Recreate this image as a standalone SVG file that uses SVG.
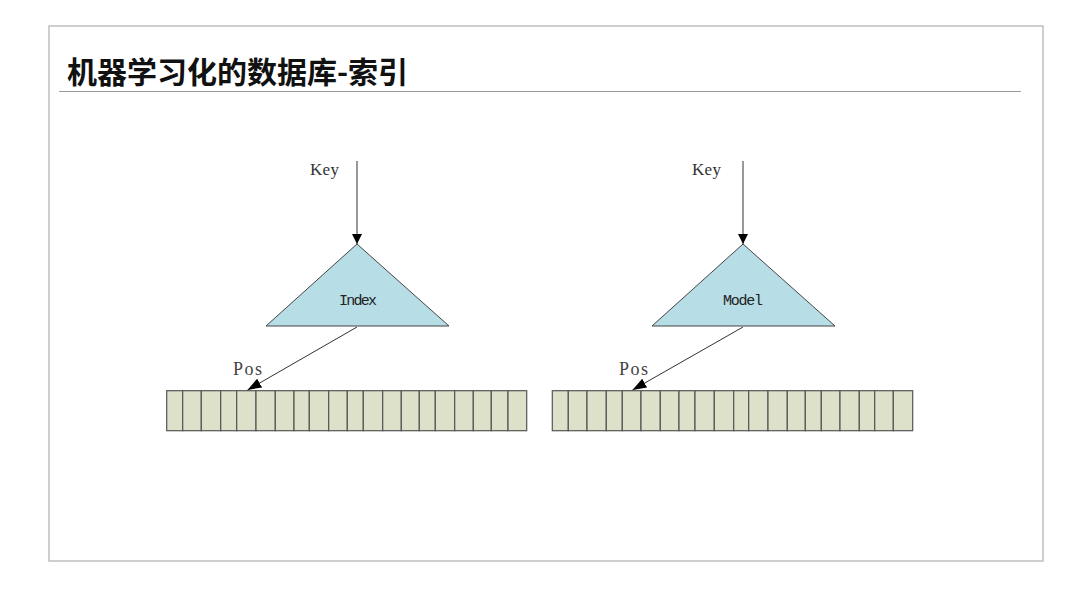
<svg xmlns="http://www.w3.org/2000/svg" width="1080" height="608" viewBox="0 0 1080 608">
<defs>
<style>
.frame{fill:#fff;stroke:#b0b0b0;stroke-width:1.2}
.rule{stroke:#9a9a9a;stroke-width:1}
.title{font-family:"Noto Sans CJK SC","Noto Sans",sans-serif;font-weight:bold;font-size:30px;fill:#111}
.tri{fill:#b7dde7;stroke:#444;stroke-width:1}
.cell{fill:#dde1c9;stroke:#555;stroke-width:1.2}
.conn{stroke:#333;stroke-width:1;fill:none}
.lbl{font-family:"Liberation Serif",serif;font-size:17px;fill:#333}
.pos{font-family:"Liberation Serif",serif;font-size:18px;fill:#444}
.in{font-family:"Liberation Mono",monospace;font-size:15px;fill:#222}
</style>
<marker id="ah" viewBox="0 0 10 10" refX="10" refY="5" markerWidth="10" markerHeight="10" markerUnits="userSpaceOnUse" orient="auto">
<path d="M0,0 L10,5 L0,10 z" fill="#000"/>
</marker>
<marker id="ah2" viewBox="0 0 14 10" refX="14" refY="5" markerWidth="14" markerHeight="10" markerUnits="userSpaceOnUse" orient="auto">
<path d="M0,0 L14,5 L0,10 z" fill="#000"/>
</marker>
</defs>
<rect class="frame" x="49" y="26" width="994" height="535"/>
<text class="title" x="67" y="83">机器学习化的数据库-索引</text>
<line class="rule" x1="59" y1="91.5" x2="1021" y2="91.5"/>

<g id="index">
<polygon class="tri" points="357,244 266,326 449,326"/>
<text class="in" x="358" y="305" text-anchor="middle" textLength="38">Index</text>
</g>
<g id="model">
<polygon class="tri" points="743,244 652,326 835,326"/>
<text class="in" x="743" y="305" text-anchor="middle" textLength="40">Model</text>
</g>

<g id="array-left">
<rect class="cell" x="166.7" y="390.7" width="16" height="40"/>
<rect class="cell" x="182.7" y="390.7" width="18.6" height="40"/>
<rect class="cell" x="201.3" y="390.7" width="19.4" height="40"/>
<rect class="cell" x="220.7" y="390.7" width="16" height="40"/>
<rect class="cell" x="236.7" y="390.7" width="19.3" height="40"/>
<rect class="cell" x="256" y="390.7" width="19.3" height="40"/>
<rect class="cell" x="275.3" y="390.7" width="18.7" height="40"/>
<rect class="cell" x="294" y="390.7" width="15.3" height="40"/>
<rect class="cell" x="309.3" y="390.7" width="19.4" height="40"/>
<rect class="cell" x="328.7" y="390.7" width="18.6" height="40"/>
<rect class="cell" x="347.3" y="390.7" width="16" height="40"/>
<rect class="cell" x="363.3" y="390.7" width="19.4" height="40"/>
<rect class="cell" x="382.7" y="390.7" width="18.6" height="40"/>
<rect class="cell" x="401.3" y="390.7" width="18" height="40"/>
<rect class="cell" x="419.3" y="390.7" width="16" height="40"/>
<rect class="cell" x="435.3" y="390.7" width="19.4" height="40"/>
<rect class="cell" x="454.7" y="390.7" width="18.6" height="40"/>
<rect class="cell" x="473.3" y="390.7" width="18" height="40"/>
<rect class="cell" x="491.3" y="390.7" width="16.7" height="40"/>
<rect class="cell" x="508" y="390.7" width="18.7" height="40"/>
</g>

<g id="array-right">
<rect class="cell" x="552.3" y="390.7" width="16" height="40"/>
<rect class="cell" x="568.3" y="390.7" width="18.7" height="40"/>
<rect class="cell" x="587" y="390.7" width="19.3" height="40"/>
<rect class="cell" x="606.3" y="390.7" width="16" height="40"/>
<rect class="cell" x="622.3" y="390.7" width="18.7" height="40"/>
<rect class="cell" x="641" y="390.7" width="19.3" height="40"/>
<rect class="cell" x="660.3" y="390.7" width="18.7" height="40"/>
<rect class="cell" x="679" y="390.7" width="16" height="40"/>
<rect class="cell" x="695" y="390.7" width="19.3" height="40"/>
<rect class="cell" x="714.3" y="390.7" width="19.4" height="40"/>
<rect class="cell" x="733.7" y="390.7" width="15" height="40"/>
<rect class="cell" x="748.7" y="390.7" width="19.3" height="40"/>
<rect class="cell" x="768" y="390.7" width="19.3" height="40"/>
<rect class="cell" x="787.3" y="390.7" width="18" height="40"/>
<rect class="cell" x="805.3" y="390.7" width="16" height="40"/>
<rect class="cell" x="821.3" y="390.7" width="18.7" height="40"/>
<rect class="cell" x="840" y="390.7" width="19.3" height="40"/>
<rect class="cell" x="859.3" y="390.7" width="15.4" height="40"/>
<rect class="cell" x="874.7" y="390.7" width="18.6" height="40"/>
<rect class="cell" x="893.3" y="390.7" width="19.4" height="40"/>
</g>

<g id="labels">
<text class="lbl" x="310" y="175" textLength="29">Key</text>
<text class="lbl" x="692" y="175" textLength="29">Key</text>
<text class="pos" x="233" y="375" textLength="29">Pos</text>
<text class="pos" x="619" y="375" textLength="29">Pos</text>
</g>

<g id="connectors">
<line class="conn" x1="357" y1="161" x2="357" y2="244" marker-end="url(#ah)"/>
<line class="conn" x1="743" y1="161" x2="743" y2="244" marker-end="url(#ah)"/>
<line class="conn" x1="357" y1="327" x2="247.5" y2="390" marker-end="url(#ah2)"/>
<line class="conn" x1="743" y1="327" x2="632.5" y2="390" marker-end="url(#ah2)"/>
</g>
</svg>
